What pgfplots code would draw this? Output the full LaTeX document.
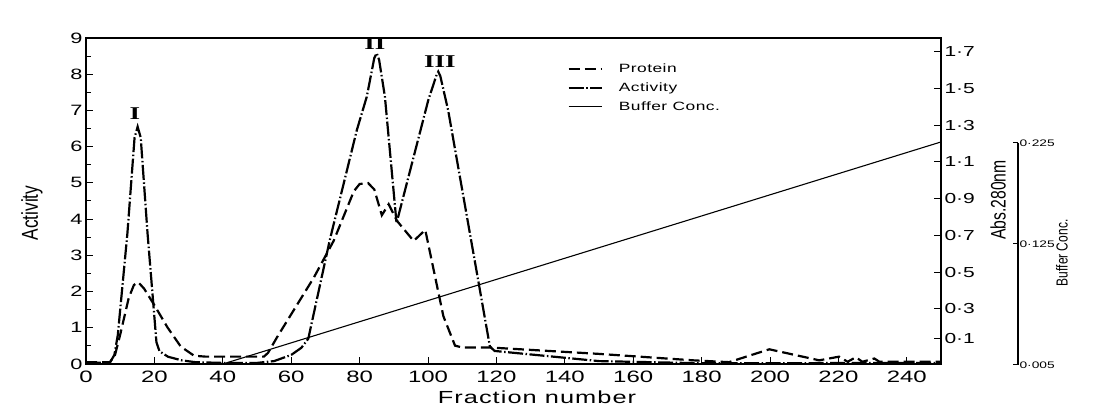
\documentclass[border=0pt]{standalone}
\usepackage{pgfplots}
\pgfplotsset{compat=1.18}
\usepackage{fontspec}
\setmainfont{Liberation Sans}[FakeStretch=1.45]
\newfontfamily\vfont{Liberation Sans}[FakeStretch=0.75]
\newfontfamily\romfont{Liberation Serif}[FakeStretch=1.5]

\begin{document}
\begin{tikzpicture}[x=1pt,y=1pt]
\useasboundingbox (0,0) rectangle (1104,409);

\pgfplotsset{
    base/.style={scale only axis, width=855pt, height=326pt,
        at={(86pt,45pt)}, anchor=south west, xmin=0, xmax=250,
        /pgf/number format/assume math mode=true},
    prot/.style={black, line width=2.2pt, dash pattern=on 11pt off 5pt},
    act/.style={black, line width=2.2pt, dash pattern=on 15pt off 2.5pt on 1.5pt off 2.5pt},
}

% activity (left axis)
\begin{axis}[base,
        ymin=0, ymax=9,
        ytick={0,...,9}, minor y tick num=1,
        xtick={0,20,...,240},
        xtick pos=bottom, ytick pos=left,
        tick align=inside,
        axis line style={line width=1.3pt},
        every tick/.style={black, line width=1pt},
        major tick length=7pt, minor tick length=5pt,
        yticklabel style={font=\fontsize{15}{15}\selectfont},
        xticklabel style={font=\fontsize{16.5}{16.5}\selectfont, yshift=-3pt},
        xlabel={Fraction number},
        xlabel style={at={(axis description cs:0.5275,-0.101)}, anchor=center,
            font=\addfontfeature{LetterSpace=6}\fontsize{17.5}{17.5}\selectfont},
        ylabel={Activity},
        ylabel style={at={(axis description cs:-0.0632,0.463)}, anchor=center,
            font=\vfont\fontsize{23}{23}\selectfont},
        clip=false,
    ]
    \addplot[act] coordinates {
        (0,0.03) (7,0.04) (8.3,0.25) (9.3,0.8) (12.1,3.6) (14.2,6.25) (15.1,6.55)
        (16,6.25) (18,3.6) (20.6,0.6) (21.5,0.35) (24,0.2) (28,0.1) (32,0.05)
        (40,0.03) (50,0.03) (55,0.08) (60,0.25) (63,0.45) (65,0.7) (71.3,3.43)
        (79.2,6.46) (82.1,7.38) (84.3,8.45) (85,8.58) (85.7,8.4) (87.4,7.38)
        (90.8,3.89) (100.1,7.29) (102.4,7.95) (103,8.07) (103.6,7.95) (105.9,7.0)
        (118.1,0.48) (119.5,0.36) (150,0.08) (180,0.02) (250,0.03)
    };
    \node[font=\romfont\bfseries\fontsize{18}{18}\selectfont] at (axis cs:14.3,6.9) {I};
    \node[font=\romfont\bfseries\fontsize{18}{18}\selectfont] at (axis cs:84.5,8.84) {II};
    \node[font=\romfont\bfseries\fontsize{18}{18}\selectfont] at (axis cs:103.5,8.36) {III};
\end{axis}

% protein, Abs. 280nm (right axis)
\begin{axis}[base,
        ymin=0, ymax=1.775,
        axis y line*=right, axis x line=none,
        ytick={0.14,0.3,0.5,0.7,0.9,1.1,1.3,1.5,1.7},
        yticklabels={0·1,0·3,0·5,0·7,0·9,1·1,1·3,1·5,1·7},
        tick align=inside,
        axis line style={line width=1.3pt},
        every tick/.style={black, line width=1pt},
        major tick length=7pt,
        yticklabel style={font=\fontsize{14.5}{14.5}\selectfont},
        ylabel={Abs.280nm},
        ylabel style={at={(axis description cs:1.0667,0.503)}, anchor=center,
            font=\vfont\fontsize{21}{21}\selectfont},
    ]
    \addplot[prot] coordinates {
        (0,0.01) (7,0.01) (8.5,0.05) (10,0.16) (12.5,0.36) (14,0.43) (15.3,0.445)
        (17,0.41) (20,0.32) (23.8,0.2) (27.7,0.095) (31.6,0.045) (35,0.04) (52,0.04)
        (53.2,0.06) (56,0.15) (66.6,0.47) (72.4,0.67) (78.3,0.94) (80,0.98)
        (82.5,0.985) (84.3,0.95) (86.5,0.81) (88.5,0.87) (90.9,0.78) (95.8,0.67)
        (99.2,0.73) (104.5,0.26) (107.9,0.10) (110,0.09) (118,0.09) (150,0.055)
        (177.5,0.02) (188,0.01) (199.8,0.08) (214.4,0.02) (220.2,0.04) (222.7,0.012)
        (225.1,0.037) (227,0.012) (230.5,0.03) (232,0.012) (250,0.012)
    };
\end{axis}

% buffer concentration line and legend
\begin{axis}[base,
        ymin=0.005, ymax=0.328,
        hide axis,
        legend cell align=left,
        legend style={at={(axis description cs:0.563,0.927)}, anchor=north west,
            draw=none, fill=none, inner sep=0pt, row sep=4.5pt,
            /tikz/every odd column/.append style={column sep=14pt},
            font=\addfontfeature{LetterSpace=4}\fontsize{12}{12}\selectfont},
        legend image code/.code={\draw[#1] (0pt,0pt) -- (33pt,0pt);},
    ]
    \addlegendimage{prot}
    \addlegendentry{Protein}
    \addlegendimage{act}
    \addlegendentry{Activity}
    \addplot[black, line width=1.1pt] coordinates {(40,0.005) (250,0.225)};
    \addlegendentry{Buffer Conc.}
\end{axis}

% buffer concentration scale
\begin{axis}[scale only axis, width=10pt, height=222pt,
        at={(1008pt,44pt)}, anchor=south west,
        xmin=0, xmax=1, ymin=0.005, ymax=0.225,
        axis y line*=right, axis x line=none,
        ytick={0.005,0.125,0.225},
        yticklabels={0·005,0·125,0·225},
        tick align=inside,
        axis line style={line width=1.1pt},
        every tick/.style={black, line width=1pt},
        major tick length=5pt,
        yticklabel style={font=\fontsize{9.5}{9.5}\selectfont, xshift=-2pt},
        ylabel={Buffer Conc.},
        ylabel style={at={(axis description cs:5.4,0.505)}, anchor=center,
            font=\vfont\fontsize{16}{16}\selectfont},
    ]
\end{axis}
\end{tikzpicture}
\end{document}
